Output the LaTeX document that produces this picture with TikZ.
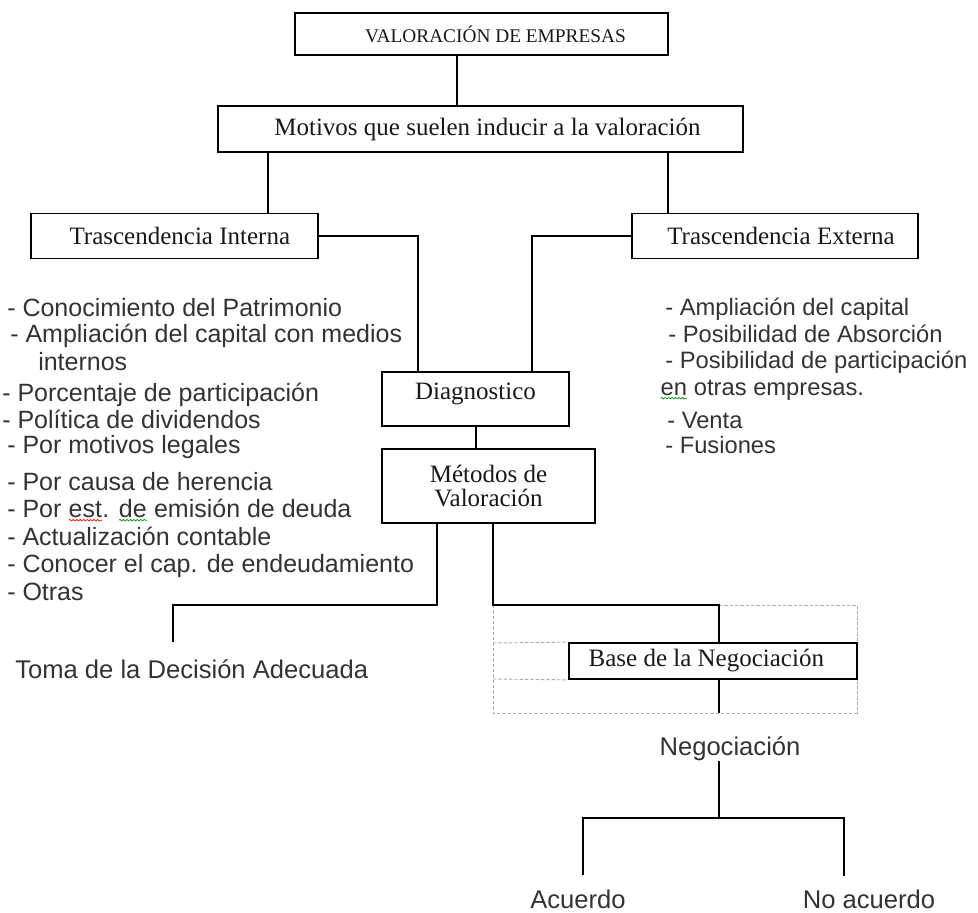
\documentclass[tikz,border=0pt]{standalone}
\usepackage{fontspec}
\setmainfont{Liberation Serif}
\newfontfamily\sansf{Liberation Sans}
\usetikzlibrary{decorations.pathmorphing}

% word with a spell-checker style wavy underline
\newcommand\spellwave[2]{\tikz[baseline=(swn.base)]{%
  \node[inner sep=0pt,outer sep=0pt,anchor=base] (swn) {#2};%
  \draw[draw=#1,line width=0.5pt,decorate,
        decoration={snake,amplitude=0.6pt,segment length=2.6pt}]
       ([yshift=-2.4pt]swn.base west) -- ([yshift=-2.4pt]swn.base east);}}

\begin{document}
\begin{tikzpicture}[x=0.75pt,y=-0.75pt,
  conn/.style={line width=1.3pt,draw=black},
  boxn/.style n args={2}{draw=black,line width=1.3pt,fill=white,inner sep=0pt,
    minimum width=#1*0.75pt,minimum height=#2*0.75pt,text=black!90,
    font=\fontsize{18.75pt}{18pt}\selectfont},
  itemL/.style={anchor=base west,inner sep=0pt,text=black!80,
    font=\sansf\fontsize{18.75pt}{20pt}\selectfont},
  itemR/.style={anchor=base west,inner sep=0pt,text=black!80,
    font=\sansf\fontsize{17.8pt}{20pt}\selectfont},
  leaf/.style={anchor=base,inner sep=0pt,text=black!80,
    font=\sansf\fontsize{19.2pt}{20pt}\selectfont},
  guide/.style={draw=gray!65,line width=0.7pt,dash pattern=on 2.5pt off 1.5pt}]

\fill[white] (0,0) rectangle (978,913);
\useasboundingbox (0,0) rectangle (978,913);

% dotted frame around the negotiation block
\draw[guide] (493,605) rectangle (857,713);

% boxes
\node[boxn={373}{42}] (val) at (481.5,34)
  {\fontsize{14.5pt}{16pt}\selectfont\hspace*{21pt}VALORACIÓN DE EMPRESAS};
\node[boxn={525}{46}] (mot) at (480.5,129)
  {\hspace*{10.5pt}Motivos que suelen inducir a la valoración};
\node[boxn={287}{45}] (ti) at (174.5,236) {\hspace*{8pt}Trascendencia Interna};
\node[boxn={286}{45}] (te) at (775,236) {\hspace*{9pt}Trascendencia Externa};
\node[boxn={187}{54}] (diag) at (475.5,399)
  {\raisebox{4pt}[\height][\depth]{Diagnostico}};
\node[boxn={213}{74},align=center] (met) at (488.5,486) {Métodos de\\Valoración};
\node[boxn={288}{36}] (base) at (713,661) {\hspace*{-10pt}Base de la Negociación};

\draw[guide] (493,643) -- (base.north west);
\draw[guide] (493,679) -- (base.south west);

% internal motives
\node[itemL] (l1) at (7,316) {- Conocimiento del Patrimonio};
\node[itemL] (l2) at (10,342) {- Ampliación del capital con medios};
\node[itemL] (l3) at (38,370) {internos};
\node[itemL] (l4) at (2,401) {- Porcentaje de participación};
\node[itemL] (l5) at (2,428) {- Política de dividendos};
\node[itemL] (l6) at (7,453) {- Por motivos legales};
\node[itemL] (l7) at (7,490) {- Por causa de herencia};
\node[itemL] (l8) at (7,517)
  {- Por \spellwave{red}{est}. \spellwave{green!55!black}{de} emisión de deuda};
\node[itemL] (l9) at (7,545) {- Actualización contable};
\node[itemL] (l10) at (7,572) {- Conocer el cap. de endeudamiento};
\node[itemL] (l11) at (7,600) {- Otras};

% external motives
\node[itemR] (r1) at (665,315) {- Ampliación del capital};
\node[itemR] (r2) at (668,342) {- Posibilidad de Absorción};
\node[itemR] (r3) at (665,368) {- Posibilidad de participación};
\node[itemR] (r4) at (660,395) {\spellwave{green!55!black}{en} otras empresas.};
\node[itemR] (r5) at (667,428) {- Venta};
\node[itemR] (r6) at (665,453) {- Fusiones};

% outcomes
\node[leaf,anchor=base west] (toma) at (15,678) {Toma de la Decisión Adecuada};
\node[leaf] (neg) at (730,755) {Negociación};
\node[leaf] (acu) at (578,908) {Acuerdo};
\node[leaf] (noac) at (869,908) {No acuerdo};

% connector guide points
\coordinate (xa) at (457,0);
\coordinate (xb) at (268,0);
\coordinate (xc) at (668,0);
\coordinate (xd) at (418,0);
\coordinate (xe) at (532,0);
\coordinate (xf) at (476,0);
\coordinate (xg) at (437,0);
\coordinate (xh) at (173,0);
\coordinate (xi) at (493,0);
\coordinate (xj) at (719,0);
\coordinate (yg) at (0,605);
\coordinate (tomaend) at (173,642);
\coordinate (baseend) at (719,713);
\coordinate (negfork) at (719,818);
\coordinate (acfork) at (583,818);
\coordinate (nafork) at (844,818);
\coordinate (acend) at (583,875);
\coordinate (naend) at (844,876);

% connectors
\draw[conn] (val.south -| xa) -- (mot.north -| xa);
\draw[conn] (mot.south -| xb) -- (ti.north -| xb);
\draw[conn] (mot.south -| xc) -- (te.north -| xc);
\draw[conn] (ti.east) -| (diag.north -| xd);
\draw[conn] (te.west) -| (diag.north -| xe);
\draw[conn] (diag.south -| xf) -- (met.north -| xf);
\draw[conn] (met.south -| xg) |- (yg -| xh) -- (tomaend);
\draw[conn] (met.south -| xi) |- (yg -| xj) -- (base.north -| xj);
\draw[conn] (base.south -| xj) -- (baseend);
\draw[conn] (neg.south -| xj) -- (negfork);
\draw[conn] (acend) -- (acfork) -- (nafork) -- (naend);
\end{tikzpicture}
\end{document}
